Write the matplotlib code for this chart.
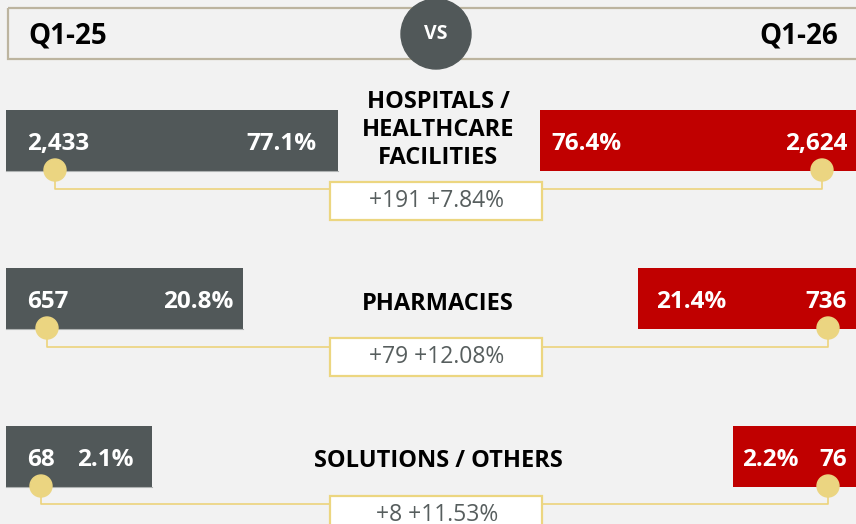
import matplotlib
matplotlib.use('Agg')
import matplotlib.pyplot as plt
from matplotlib.patches import Rectangle, Circle

# data
categories = ['HOSPITALS /\nHEALTHCARE\nFACILITIES', 'PHARMACIES', 'SOLUTIONS / OTHERS']
q1_25 = [2433, 657, 68]
q1_26 = [2624, 736, 76]
share_25 = [77.1, 20.8, 2.1]
share_26 = [76.4, 21.4, 2.2]
growth = [7.84, 12.08, 11.53]
period_labels = ['Q1-25', 'Q1-26']

# layout (pixels)
row_top = [110, 268, 426]
bar_h = 61
left_end = [338, 243, 152]
right_start = [540, 638, 733]
left_pct_x = [317, 233, 134]
right_pct_x = [551, 656, 742]
dot_left_x = [55, 47, 41]
dot_right_x = [822, 828, 828]
conn_y = [189, 347, 504]
box_top = [182, 338, 496]
label_y = [130, 304, 461]

BG = '#f2f2f2'
GREY = '#515859'
RED = '#c00000'
GOLD = '#ebd581'
LINE = '#ecd37c'
FONT = 'Open Sans'

fig = plt.figure(figsize=(8.56, 5.24), dpi=100, facecolor=BG)
ax = fig.add_axes([0, 0, 1, 1])
ax.set_xlim(0, 856)
ax.set_ylim(524, 0)
ax.axis('off')
ax.set_facecolor(BG)

# header
ax.add_patch(Rectangle((8, 8), 870, 51, fill=False, ec='#bcb49f', lw=1.6, zorder=1))
ax.add_patch(Circle((436, 34), 35, color=GREY, zorder=3))
ax.text(436, 34, 'VS', color='white', fontsize=14, fontweight='bold', family=FONT,
        ha='center', va='center', zorder=4)
ax.text(28, 43, period_labels[0], fontsize=20, fontweight='bold', family=FONT,
        ha='left', va='baseline', color='black')
ax.text(838, 43, period_labels[1], fontsize=20, fontweight='bold', family=FONT,
        ha='right', va='baseline', color='black')

for i, cat in enumerate(categories):
    yc = row_top[i] + bar_h / 2
    yb = row_top[i] + 40
    ax.barh(yc, left_end[i] - 6, left=6, height=bar_h, color=GREY, zorder=2)
    ax.barh(yc, 860 - right_start[i], left=right_start[i], height=bar_h, color=RED, zorder=2)
    ax.plot([6, left_end[i]], [row_top[i] + bar_h, row_top[i] + bar_h], color='#aeb2b2', lw=0.8, zorder=2)

    ax.text(27, yb, f'{q1_25[i]:,}', color='white', fontsize=17.5, fontweight='bold', family=FONT,
            ha='left', va='baseline', zorder=4)
    ax.text(left_pct_x[i], yb, f'{share_25[i]:.1f}%', color='white', fontsize=17.5, fontweight='bold',
            family=FONT, ha='right', va='baseline', zorder=4)
    ax.text(right_pct_x[i], yb, f'{share_26[i]:.1f}%', color='white', fontsize=17.5, fontweight='bold',
            family=FONT, ha='left', va='baseline', zorder=4)
    ax.text(847, yb, f'{q1_26[i]:,}', color='white', fontsize=17.5, fontweight='bold', family=FONT,
            ha='right', va='baseline', zorder=4)

    ax.text(438, label_y[i], cat, color='black', fontsize=17, fontweight='bold', family=FONT,
            ha='center', va='center', linespacing=1.2, zorder=4)

    dy = row_top[i] + bar_h - 1
    ax.plot([dot_left_x[i], dot_left_x[i], 436], [dy, conn_y[i], conn_y[i]], color=LINE, lw=1.2, zorder=3)
    ax.plot([dot_right_x[i], dot_right_x[i], 436], [dy, conn_y[i], conn_y[i]], color=LINE, lw=1.2, zorder=3)
    ax.add_patch(Circle((dot_left_x[i], dy), 11, color=GOLD, zorder=5))
    ax.add_patch(Circle((dot_right_x[i], dy), 11, color=GOLD, zorder=5))

    ax.add_patch(Rectangle((330, box_top[i]), 212, 38, fc='white', ec='#ecd680', lw=1.6, zorder=6))
    diff = q1_26[i] - q1_25[i]
    ax.text(437, box_top[i] + 19, f'+{diff} +{growth[i]:.2f}%', color='#575e5e', fontsize=16.5,
            fontweight='normal', family=FONT, ha='center', va='center', zorder=7)

fig.savefig('out.png', dpi=100, facecolor=BG)
